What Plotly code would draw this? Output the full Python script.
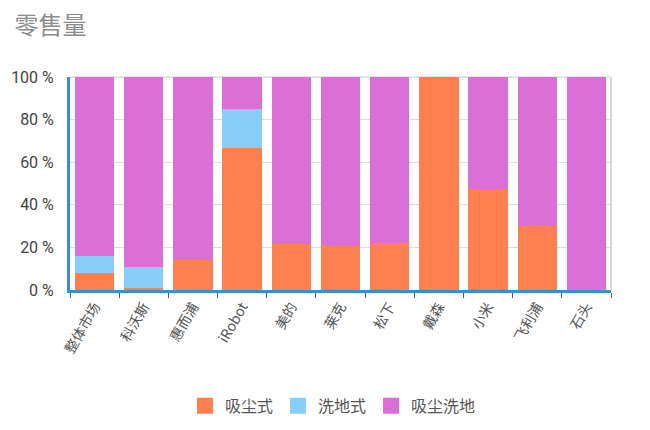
import plotly.graph_objects as go

brands = ["整体市场", "科沃斯", "惠而浦", "iRobot", "美的", "莱克",
          "松下", "戴森", "小米", "飞利浦", "石头"]
vacuum = [8.0, 0.8, 14.2, 66.6, 21.4, 20.7, 22.0, 100.0, 47.3, 30.2, 0.0]
mopping = [8.0, 9.9, 0.0, 18.6, 0.0, 0.0, 0.0, 0.0, 0.0, 0.0, 0.0]
combo = [84.0, 89.3, 85.8, 14.8, 78.6, 79.3, 78.0, 0.0, 52.7, 69.8, 100.0]
y_ticks = [0, 20, 40, 60, 80, 100]

series = [
    ("吸尘式", vacuum, "#ff7f50"),
    ("洗地式", mopping, "#87cefa"),
    ("吸尘洗地", combo, "#da70d6"),
]

fig = go.Figure()
for name, vals, color in series:
    fig.add_trace(go.Bar(
        name=name, x=brands, y=vals, showlegend=False,
        marker=dict(color=color, line=dict(width=0)),
    ))
# bigger legend swatches than plotly's default bar icons
for name, vals, color in series:
    fig.add_trace(go.Scatter(
        name=name, x=[None], y=[None], mode="markers",
        marker=dict(symbol="square", size=16, color=color),
    ))

# the page body adds an 8px offset, margins account for it
fig.update_layout(
    width=650, height=430,
    barmode="stack", bargap=0.2,
    paper_bgcolor="white", plot_bgcolor="white",
    margin=dict(l=62, r=47, t=69, b=148),
    font=dict(family="Roboto, Noto Sans CJK SC, sans-serif", color="#555", size=13),
    title=dict(
        text="零售量", x=0.01, xanchor="left", xref="container",
        y=0.958, yref="container", yanchor="middle",
        font=dict(size=24, color="#8c8c8c", family="Noto Sans CJK SC"),
    ),
    legend=dict(
        orientation="h", x=0.5, xanchor="center", xref="container",
        y=0.075, yref="container", yanchor="middle",
        font=dict(size=16, color="#555", family="Noto Sans CJK SC"),
        traceorder="normal", itemwidth=30,
    ),
)

fig.update_xaxes(
    type="category", tickangle=-60, tickson="boundaries",
    ticks="outside", ticklen=5, tickcolor="#555", tickwidth=1,
    showline=True, linecolor="#3f8ecb", linewidth=3,
    showgrid=False, automargin=False,
    tickfont=dict(size=14, color="#555", family="Noto Sans CJK SC"),
)
fig.update_yaxes(
    range=[0, 100], tickvals=y_ticks,
    ticktext=[f"{v} %" for v in y_ticks], ticks="", ticklabelstandoff=10,
    showline=True, linecolor="#3f8ecb", linewidth=3,
    showgrid=True, gridcolor="#ddd", gridwidth=1,
    zeroline=False, automargin=False,
    tickfont=dict(size=16, color="#444", family="Roboto"),
)

# light frame on the right side of the plot area
fig.add_shape(type="line", xref="paper", yref="paper", x0=1, x1=1, y0=0, y1=1,
              line=dict(color="#ccc", width=1.5), layer="above")
fig.add_shape(type="line", xref="paper", yref="paper", x0=0, x1=1, y0=1, y1=1,
              line=dict(color="#ccc", width=1), layer="below")

fig.write_html("out.html")
